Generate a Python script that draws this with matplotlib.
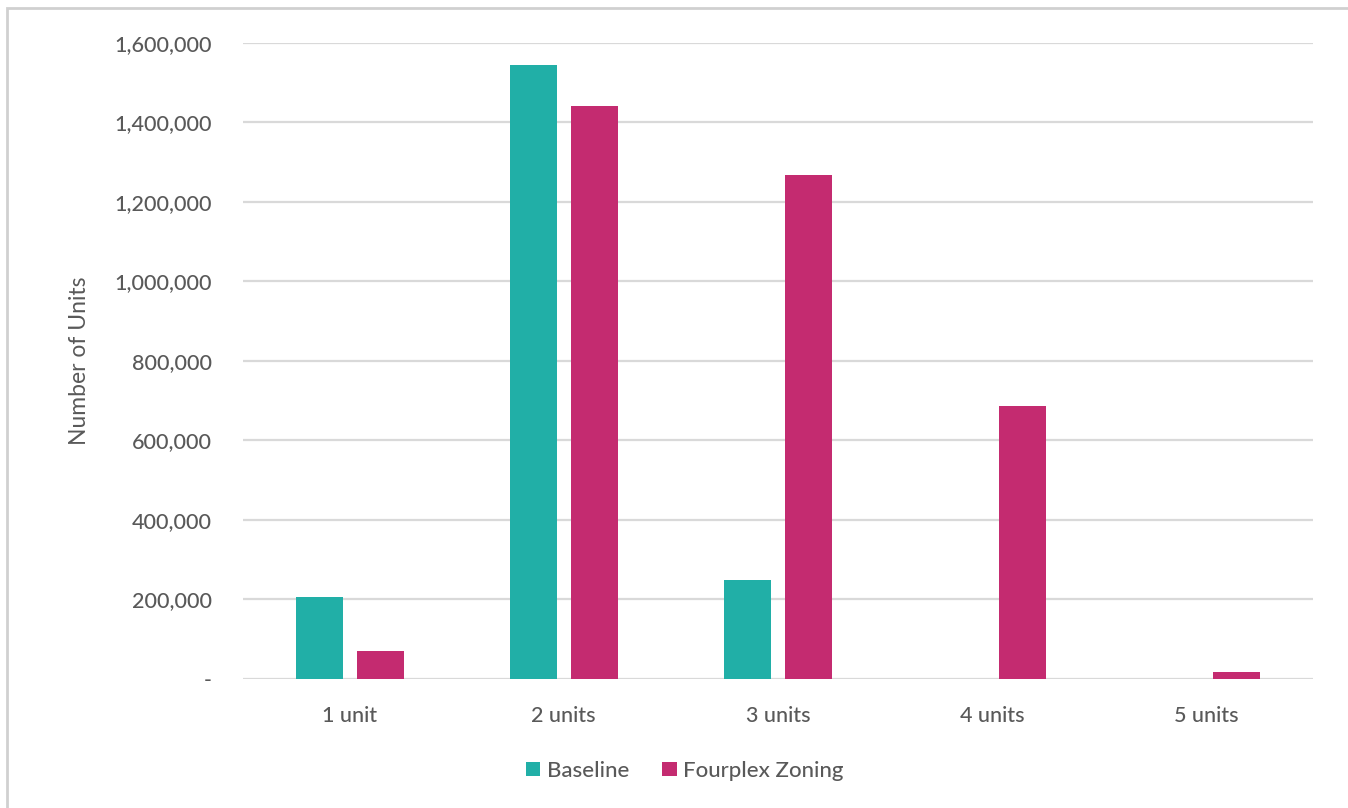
import numpy as np
import matplotlib.pyplot as plt
from matplotlib.ticker import FuncFormatter

categories = ["1 unit", "2 units", "3 units", "4 units", "5 units"]
baseline = [206000, 1545000, 249000, 0, 0]
fourplex = [70000, 1441000, 1268000, 687000, 18000]
series_names = ["Baseline", "Fourplex Zoning"]

teal = "#21AFA7"
magenta = "#C42B70"
text_col = "#595959"

plt.rcParams['font.family'] = ['Lato', 'DejaVu Sans']
plt.rcParams['font.weight'] = 'medium'

fig = plt.figure(figsize=(13.48, 8.08), dpi=100)
ax = fig.add_axes([0.180, 0.160, 0.794, 0.787])

x = np.arange(len(categories))
w = 0.22
gap = 0.065
ax.bar(x - (w + gap) / 2, baseline, w, color=teal, label=series_names[0], zorder=3)
ax.bar(x + (w + gap) / 2, fourplex, w, color=magenta, label=series_names[1], zorder=3)

ax.set_xlim(-0.5, len(categories) - 0.5)
ax.set_ylim(0, 1600000)
ax.set_yticks(np.arange(0, 1600001, 200000))
ax.yaxis.set_major_formatter(FuncFormatter(lambda v, p: "-" if v == 0 else f"{int(v):,}"))
ax.set_xticks(x)
ax.set_xticklabels(categories)

ax.grid(axis='y', color="#D9D9D9", linewidth=1.6, zorder=0)
for s in ax.spines.values():
    s.set_visible(False)
ax.tick_params(axis='both', length=0, labelsize=15.5, colors=text_col)
ax.tick_params(axis='y', pad=22)
ax.tick_params(axis='x', pad=20)

ax.set_ylabel("Number of Units", fontsize=16.5, color=text_col, labelpad=18)

leg = fig.legend(loc='center', bbox_to_anchor=(0.508, 0.046), ncol=2, frameon=False,
                 fontsize=16, handlelength=0.65, handleheight=0.65, handletextpad=0.3,
                 columnspacing=1.5)
for t in leg.get_texts():
    t.set_color(text_col)

# light outer frame
fig.patches.append(plt.Rectangle((0.005, -0.01), 1.2, 1.0, transform=fig.transFigure,
                                 fill=False, edgecolor="#D0D0D0", linewidth=2))

fig.savefig("out.png", dpi=100)
